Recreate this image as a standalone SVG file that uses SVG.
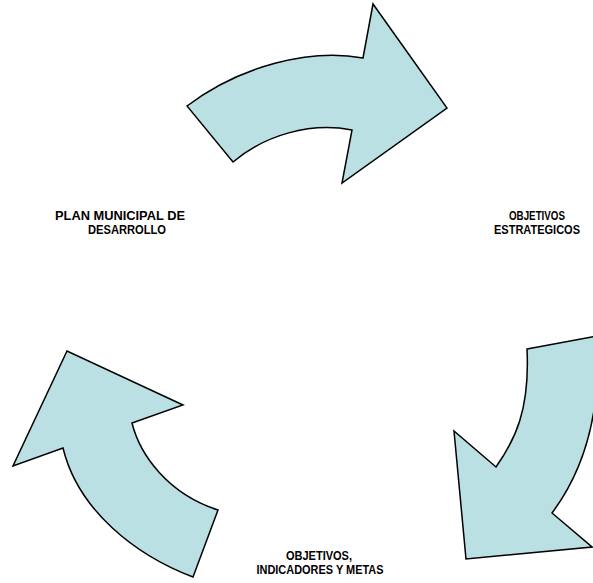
<svg xmlns="http://www.w3.org/2000/svg" width="593" height="583" viewBox="0 0 593 583">
<style>
.arrow{fill:#bae0e3;stroke:#000;stroke-width:1.5;stroke-linejoin:miter}
.lbl{font-family:"Liberation Sans Narrow","Liberation Sans",Arial,sans-serif;font-weight:bold;font-size:12.5px;fill:#000;text-anchor:middle}
</style>
<rect width="593" height="583" fill="#fff"/>
<g id="connectors">
<path id="arrow-top" class="arrow" d="M187,106 C240,66 310,48 363,58 L373,4 L447,108 L342,183 L352,130 C310,122 265,135 233,162 Z"/>
<path id="arrow-right" class="arrow" d="M527,349 L597,336 C601,400 590,462 552,513 L592,547 L466,559 L454,431 L496,467 C515,440 530,410 527,349 Z"/>
<path id="arrow-left" class="arrow" d="M218,510 L193,577 C135,555 78,510 63,448 L13,466 L67,351 L183,405 L132,423 C140,455 168,494 218,510 Z"/>
</g>
<g id="node-plan">
<text class="lbl" x="120" y="219.5" textLength="130" lengthAdjust="spacingAndGlyphs">PLAN MUNICIPAL DE</text>
<text class="lbl" x="127" y="233.5" textLength="78" lengthAdjust="spacingAndGlyphs">DESARROLLO</text>
</g>
<g id="node-objetivos">
<text class="lbl" x="537" y="219.5" textLength="56" lengthAdjust="spacingAndGlyphs">OBJETIVOS</text>
<text class="lbl" x="537" y="233.5" textLength="86" lengthAdjust="spacingAndGlyphs">ESTRATEGICOS</text>
</g>
<g id="node-metas">
<text class="lbl" x="319" y="559.5" textLength="66" lengthAdjust="spacingAndGlyphs">OBJETIVOS,</text>
<text class="lbl" x="320" y="573.5" textLength="127" lengthAdjust="spacingAndGlyphs">INDICADORES Y METAS</text>
</g>
</svg>
